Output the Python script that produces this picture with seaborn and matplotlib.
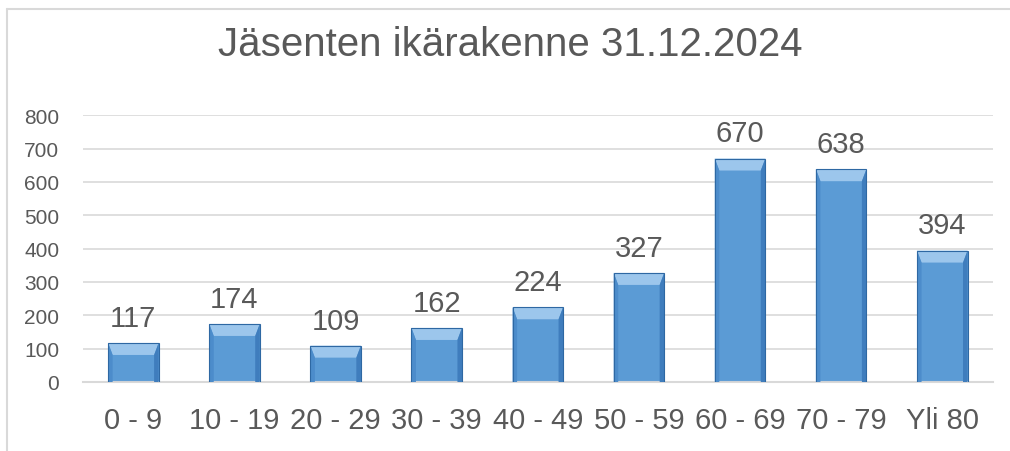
import matplotlib

matplotlib.use("Agg")
import matplotlib.pyplot as plt
import pandas as pd
import seaborn as sns
from matplotlib.lines import Line2D
from matplotlib.patches import Polygon

TITLE = "Jäsenten ikärakenne 31.12.2024"
AGE_GROUPS = ["0 - 9", "10 - 19", "20 - 29", "30 - 39", "40 - 49", "50 - 59", "60 - 69", "70 - 79", "Yli 80"]
MEMBER_COUNTS = [117, 174, 109, 162, 224, 327, 670, 638, 394]
Y_TICKS = [0, 100, 200, 300, 400, 500, 600, 700, 800]

TEXT_COLOR = "#595959"
GRID_COLOR = "#D9D9D9"
BAR_COLOR = "#5B9BD5"


def setup_style() -> None:
    sns.set_theme(style="white")
    plt.rcParams["font.family"] = ["Liberation Sans", "DejaVu Sans"]
    plt.rcParams["text.color"] = TEXT_COLOR
    plt.rcParams["xtick.color"] = TEXT_COLOR
    plt.rcParams["ytick.color"] = TEXT_COLOR


def add_bevel(ax, patch) -> None:
    # Excel-like bevel: light top facet, darker side facets
    x0 = patch.get_x()
    w = patch.get_width()
    h = patch.get_height()
    x1 = x0 + w
    side = w * 0.09
    top = 36
    ax.add_patch(Polygon([(x0, h), (x1, h), (x1 - side, h - top), (x0 + side, h - top)],
                         closed=True, facecolor="#9CC6EC", edgecolor="none", zorder=3))
    ax.add_patch(Polygon([(x0, h), (x0 + side, h - top), (x0 + side, 0), (x0, 0)],
                         closed=True, facecolor="#4C8CCB", edgecolor="none", zorder=3))
    ax.add_patch(Polygon([(x1, h), (x1 - side, h - top), (x1 - side, 0), (x1, 0)],
                         closed=True, facecolor="#3F7DBD", edgecolor="none", zorder=3))
    ax.add_patch(Polygon([(x0, h), (x1, h), (x1, 0), (x0, 0)],
                         closed=True, facecolor="none", edgecolor="#2E68A3", linewidth=0.8, zorder=4))


def main() -> None:
    setup_style()
    df = pd.DataFrame({"group": AGE_GROUPS, "count": MEMBER_COUNTS})

    fig = plt.figure(figsize=(10.1, 4.52), dpi=100)
    ax = fig.add_axes([0.082, 0.1527, 0.901, 0.5903])
    sns.barplot(data=df, x="group", y="count", color=BAR_COLOR, width=0.5,
                saturation=1, edgecolor="none", ax=ax, zorder=2)

    for patch, value in zip(ax.patches[:], MEMBER_COUNTS):
        add_bevel(ax, patch)
        ax.annotate(f"{value}", (patch.get_x() + patch.get_width() / 2, patch.get_height()),
                    xytext=(0, 8), textcoords="offset points", ha="center", va="bottom",
                    fontsize=21, color=TEXT_COLOR, annotation_clip=False)

    ax.set_ylim(0, 800)
    ax.set_xlim(-0.5, len(AGE_GROUPS) - 0.5)
    ax.set_yticks(Y_TICKS)
    ax.yaxis.grid(True, color=GRID_COLOR, linewidth=1.2, zorder=0)
    ax.set_axisbelow(True)
    for name in ["left", "right", "top"]:
        ax.spines[name].set_visible(False)
    ax.spines["bottom"].set_color(GRID_COLOR)
    ax.spines["bottom"].set_linewidth(1.5)
    ax.tick_params(axis="x", length=0, pad=17, labelsize=21)
    ax.tick_params(axis="y", length=0, pad=17, labelsize=15)
    ax.set_xlabel("")
    ax.set_ylabel("")

    fig.text(0.505, 0.90, TITLE, ha="center", va="center", fontsize=29, color=TEXT_COLOR)

    border_x = 7 / 1010
    border_y = 1 - 10 / 452
    fig.add_artist(Line2D([border_x, border_x], [0, border_y], color=GRID_COLOR, linewidth=1.5))
    fig.add_artist(Line2D([border_x, 1], [border_y, border_y], color=GRID_COLOR, linewidth=1.5))

    fig.savefig("out.png", dpi=100, facecolor="white")
    plt.close(fig)


if __name__ == "__main__":
    main()
